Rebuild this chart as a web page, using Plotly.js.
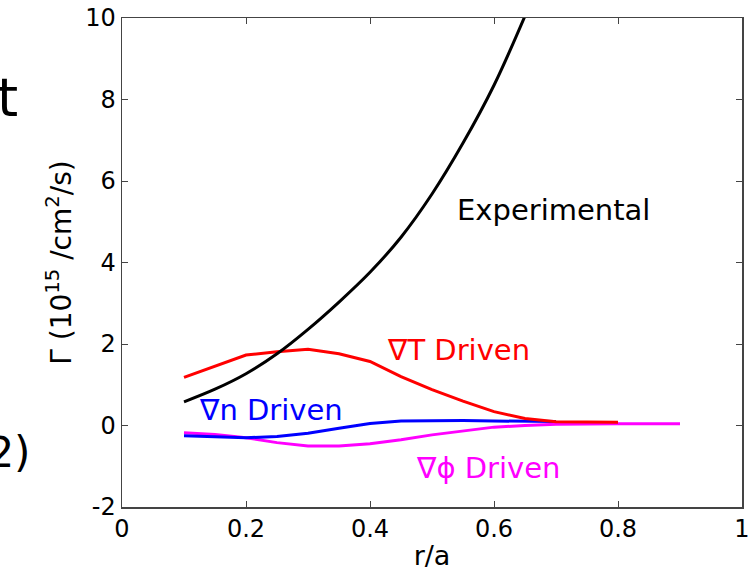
<!DOCTYPE html>
<html>
<head>
<meta charset="utf-8">
<script src="https://cdn.plot.ly/plotly-3.0.1.min.js"></script>
<style>html,body{margin:0;padding:0;background:#fff;overflow:hidden;}#chart{width:748px;height:571px;}</style>
</head>
<body>
<div id="chart"></div>
<script>
// r/a positions and flux values (10^15 /cm^2/s)
const expR = [0.1, 0.15, 0.2, 0.25, 0.3, 0.35, 0.4, 0.45, 0.5, 0.55, 0.6, 0.65];
const expV = [0.58, 0.89, 1.27, 1.76, 2.36, 3.03, 3.76, 4.62, 5.68, 6.93, 8.35, 10.05];

const gradTR = [0.1, 0.15, 0.2, 0.25, 0.3, 0.35, 0.4, 0.45, 0.5, 0.55, 0.6, 0.65, 0.7, 0.8];
const gradTV = [1.18, 1.45, 1.73, 1.81, 1.87, 1.76, 1.57, 1.2, 0.88, 0.6, 0.34, 0.17, 0.09, 0.08];

const gradNR = [0.1, 0.15, 0.2, 0.25, 0.3, 0.35, 0.4, 0.45, 0.5, 0.55, 0.6, 0.65, 0.7];
const gradNV = [-0.25, -0.27, -0.3, -0.27, -0.19, -0.07, 0.05, 0.11, 0.12, 0.12, 0.11, 0.1, 0.1];

const gradPhiR = [0.1, 0.15, 0.2, 0.25, 0.3, 0.35, 0.4, 0.45, 0.5, 0.55, 0.6, 0.65, 0.7, 0.8, 0.9];
const gradPhiV = [-0.18, -0.22, -0.3, -0.42, -0.5, -0.5, -0.45, -0.35, -0.23, -0.14, -0.04, 0.0, 0.03, 0.04, 0.04];

const xTickVals = [0, 0.2, 0.4, 0.6, 0.8, 1];
const xTickText = ["0", "0.2", "0.4", "0.6", "0.8", "1"];
const yTickVals = [-2, 0, 2, 4, 6, 8, 10];
const yTickText = ["-2", "0", "2", "4", "6", "8", "10"];

const seriesLabels = ["Experimental", "\u2207T Driven", "\u2207n Driven", "\u2207\u03D5 Driven"];

const FONT = "DejaVu Sans, Liberation Sans, Arial, sans-serif";

const traces = [
  {x: gradPhiR, y: gradPhiV, mode: "lines", line: {color: "#FF00FF", width: 3}, name: seriesLabels[3]},
  {x: gradNR, y: gradNV, mode: "lines", line: {color: "#0000FF", width: 3}, name: seriesLabels[2]},
  {x: gradTR, y: gradTV, mode: "lines", line: {color: "#FF0000", width: 3}, name: seriesLabels[1]},
  {x: expR, y: expV, mode: "lines", line: {color: "#000000", width: 3, shape: "spline"}, name: seriesLabels[0]}
];

const layout = {
  width: 748, height: 571,
  margin: {l: 122, r: 6, t: 18, b: 64},
  paper_bgcolor: "#fff", plot_bgcolor: "#fff",
  showlegend: false,
  font: {family: FONT, color: "#000"},
  xaxis: {
    range: [0, 1], tickvals: xTickVals, ticktext: xTickText,
    ticks: "inside", ticklen: 6, tickcolor: "#444", mirror: "ticks",
    showline: true, linecolor: "#444", linewidth: 1.5,
    showgrid: false, zeroline: false, ticklabeloverflow: "allow",
    tickfont: {size: 24, family: FONT, color: "#000"},
    title: {text: "r/a", font: {size: 27, family: FONT, color: "#000"}, standoff: 6}
  },
  yaxis: {
    range: [-2, 10], tickvals: yTickVals, ticktext: yTickText,
    ticks: "inside", ticklen: 6, tickcolor: "#444", mirror: "ticks",
    showline: true, linecolor: "#444", linewidth: 1.5,
    showgrid: false, zeroline: false,
    tickfont: {size: 24, family: FONT, color: "#000"},
    title: {text: "\u0393 (10<sup>15</sup> /cm<sup>2</sup>/s)", font: {size: 28, family: FONT, color: "#000"}, standoff: 5}
  },
  annotations: [
    {x: 0.696, y: 5.29, xref: "x", yref: "y", text: seriesLabels[0], showarrow: false, font: {size: 29, family: FONT, color: "#000"}},
    {x: 0.543, y: 1.85, xref: "x", yref: "y", text: seriesLabels[1], showarrow: false, font: {size: 29, family: FONT, color: "#FF0000"}},
    {x: 0.240, y: 0.38, xref: "x", yref: "y", text: seriesLabels[2], showarrow: false, font: {size: 29, family: FONT, color: "#0000FF"}},
    {x: 0.590, y: -1.04, xref: "x", yref: "y", text: seriesLabels[3], showarrow: false, font: {size: 29, family: FONT, color: "#FF00FF"}},
    {x: -0.164, y: 0.838, xref: "paper", yref: "paper", xanchor: "right", yanchor: "middle", text: "t", showarrow: false, font: {size: 54, family: FONT, color: "#000"}},
    {x: -0.143, y: 0.112, xref: "paper", yref: "paper", xanchor: "right", yanchor: "middle", text: "(2)", showarrow: false, font: {size: 42, family: FONT, color: "#000"}}
  ]
};

Plotly.newPlot("chart", traces, layout, {staticPlot: true, displayModeBar: false});
</script>
</body>
</html>
